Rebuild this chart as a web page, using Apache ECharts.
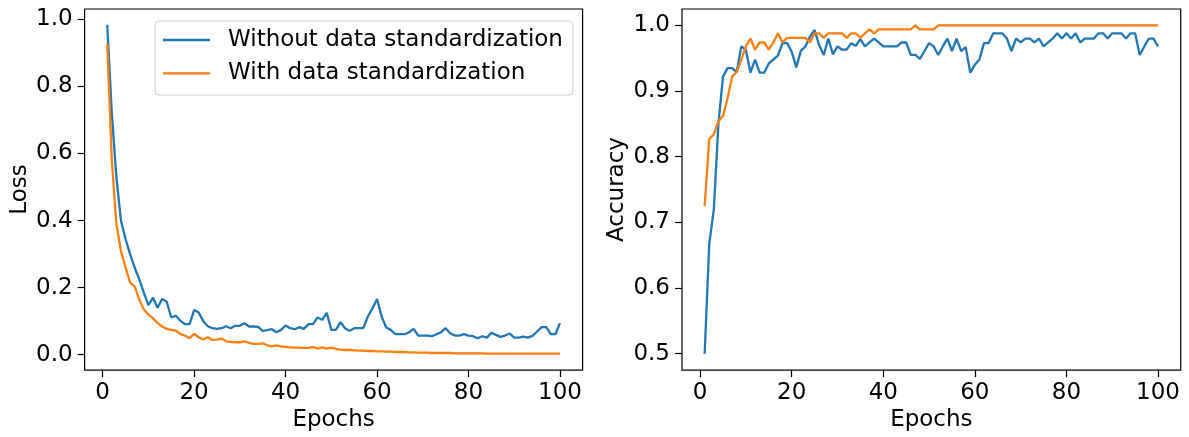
<!DOCTYPE html>
<html><head><meta charset="utf-8">
<script src="https://cdn.jsdelivr.net/npm/echarts@6/dist/echarts.min.js"></script>
<style>html,body{margin:0;padding:0;background:#fff}#c{width:1189px;height:437px}</style>
</head><body><div id="c"></div>
<script>
const epochs = [];
for (let i = 1; i <= 100; i++) epochs.push(i);

const seriesNames = ['Without data standardization', 'With data standardization'];

const lossWithout = [
  .984,.72,.53,.40,.345,.30,.26,.225,.185,.148,
  .17,.14,.166,.158,.111,.116,.101,.091,.091,.133,
  .126,.10,.085,.079,.077,.079,.085,.079,.086,.086,
  .094,.084,.084,.083,.071,.073,.076,.067,.074,.087,
  .079,.076,.082,.077,.091,.091,.111,.104,.125,.074,
  .074,.097,.079,.071,.079,.079,.079,.114,.138,.166,
  .114,.081,.074,.061,.061,.061,.067,.077,.057,.057,
  .057,.055,.061,.067,.079,.064,.057,.057,.061,.057,
  .055,.049,.055,.051,.065,.059,.053,.057,.063,.051,
  .051,.054,.051,.056,.069,.082,.082,.061,.061,.094
];
const lossWith = [
  .928,.58,.39,.31,.26,.215,.203,.165,.135,.120,
  .108,.095,.084,.077,.074,.072,.061,.057,.049,.062,
  .052,.045,.052,.044,.045,.048,.040,.038,.037,.037,
  .040,.035,.032,.032,.034,.028,.025,.028,.025,.023,
  .022,.021,.021,.020,.020,.023,.018,.022,.018,.021,
  .017,.015,.014,.014,.013,.012,.012,.011,.011,.010,
  .010,.009,.009,.008,.008,.008,.007,.007,.006,.006,
  .006,.005,.005,.005,.005,.005,.004,.004,.004,.004,
  .004,.004,.004,.003,.003,.003,.003,.003,.003,.003,
  .003,.003,.003,.003,.003,.003,.003,.003,.003,.003
];
const accWithout = [
  .50,.667,.72,.85,.922,.935,.935,.929,.968,.963,
  .928,.948,.928,.928,.942,.948,.954,.973,.973,.960,
  .936,.961,.968,.983,.993,.970,.955,.980,.956,.968,
  .963,.963,.973,.969,.979,.968,.974,.980,.974,.968,
  .968,.968,.968,.974,.974,.955,.955,.949,.961,.973,
  .968,.955,.968,.980,.961,.980,.961,.967,.928,.940,
  .948,.973,.973,.988,.988,.988,.980,.961,.980,.974,
  .980,.980,.974,.980,.968,.974,.980,.988,.980,.988,
  .980,.988,.974,.980,.980,.980,.988,.988,.980,.988,
  .988,.988,.980,.988,.988,.955,.968,.980,.980,.968
];
const accWith = [
  .725,.827,.834,.854,.862,.889,.922,.929,.948,.968,
  .980,.963,.974,.974,.963,.974,.988,.974,.981,.981,
  .981,.981,.981,.974,.988,.988,.981,.988,.988,.988,
  .988,.981,.988,.988,.981,.988,.994,.988,.994,.994,
  .994,.994,.994,.994,.994,.994,1.0,.994,.994,.994,
  .994,1.0,1.0,1.0,1.0,1.0,1.0,1.0,1.0,1.0,
  1.0,1.0,1.0,1.0,1.0,1.0,1.0,1.0,1.0,1.0,
  1.0,1.0,1.0,1.0,1.0,1.0,1.0,1.0,1.0,1.0,
  1.0,1.0,1.0,1.0,1.0,1.0,1.0,1.0,1.0,1.0,
  1.0,1.0,1.0,1.0,1.0,1.0,1.0,1.0,1.0,1.0
];

const xTicks = [0, 20, 40, 60, 80, 100];
const lossTicks = [0.0, 0.2, 0.4, 0.6, 0.8, 1.0];
const accTicks = [0.5, 0.6, 0.7, 0.8, 0.9, 1.0];

const FONT = 'DejaVu Sans';
const FS = 23;
const BLUE = '#1f77b4', ORANGE = '#ff7f0e';

function pairs(vals) { return epochs.map((e, i) => [e, vals[i]]); }

function xAxisCfg(gi) {
  return {
    type: 'value', gridIndex: gi, min: -3.95, max: 104.95,
    axisLine: { show: false, onZero: false },
    axisTick: { show: true, inside: false, length: 7, customValues: xTicks, lineStyle: { color: '#000', width: 1.2 } },
    axisLabel: { customValues: xTicks, margin: 11, fontSize: FS, fontFamily: FONT, color: '#000' },
    splitLine: { show: false },
    name: 'Epochs', nameLocation: 'middle', nameGap: 38,
    nameTextStyle: { fontSize: FS, fontFamily: FONT, color: '#000' }
  };
}
function yAxisCfg(gi, mn, mx, ticks, name) {
  return {
    type: 'value', gridIndex: gi, min: mn, max: mx,
    axisLine: { show: false, onZero: false },
    axisTick: { show: true, inside: false, length: 7, customValues: ticks, lineStyle: { color: '#000', width: 1.2 } },
    axisLabel: { customValues: ticks, margin: 12, fontSize: FS, fontFamily: FONT, color: '#000', formatter: v => Number(v).toFixed(1) },
    splitLine: { show: false },
    name: name, nameLocation: 'middle', nameGap: 53,
    nameTextStyle: { fontSize: FS, fontFamily: FONT, color: '#000' }
  };
}
function lineSeries(name, xi, vals, color) {
  return {
    type: 'line', name: name, xAxisIndex: xi, yAxisIndex: xi,
    data: pairs(vals), symbol: 'none', showSymbol: false, smooth: false,
    lineStyle: { color: color, width: 2.3 }, itemStyle: { color: color },
    clip: true
  };
}

const chart = echarts.init(document.getElementById('c'), null, { renderer: 'canvas' });
chart.setOption({
  animation: false,
  backgroundColor: '#fff',
  grid: [
    { left: 84.6, top: 9, width: 498, height: 363, show: true, borderColor: '#000', borderWidth: 1.2, backgroundColor: 'transparent' },
    { left: 682, top: 9, width: 498.7, height: 363, show: true, borderColor: '#000', borderWidth: 1.2, backgroundColor: 'transparent' }
  ],
  xAxis: [xAxisCfg(0), xAxisCfg(1)],
  yAxis: [
    yAxisCfg(0, -0.046, 1.031, lossTicks, 'Loss'),
    yAxisCfg(1, 0.475, 1.025, accTicks, 'Accuracy')
  ],
  legend: {
    left: 155, top: 21, orient: 'vertical', icon: 'rect',
    itemWidth: 47, itemHeight: 2.3, itemGap: 9.4,
    padding: [7, 10, 9.6, 8],
    backgroundColor: 'rgba(255,255,255,0.8)', borderColor: '#cccccc', borderWidth: 1, borderRadius: 4,
    selectedMode: false,
    textStyle: { fontSize: FS, fontFamily: FONT, color: '#000', lineHeight: 24, padding: [0, 0, 0, 13] },
    data: seriesNames
  },
  series: [
    lineSeries(seriesNames[0], 0, lossWithout, BLUE),
    lineSeries(seriesNames[1], 0, lossWith, ORANGE),
    lineSeries(seriesNames[0], 1, accWithout, BLUE),
    lineSeries(seriesNames[1], 1, accWith, ORANGE)
  ]
});
</script>
</body></html>
